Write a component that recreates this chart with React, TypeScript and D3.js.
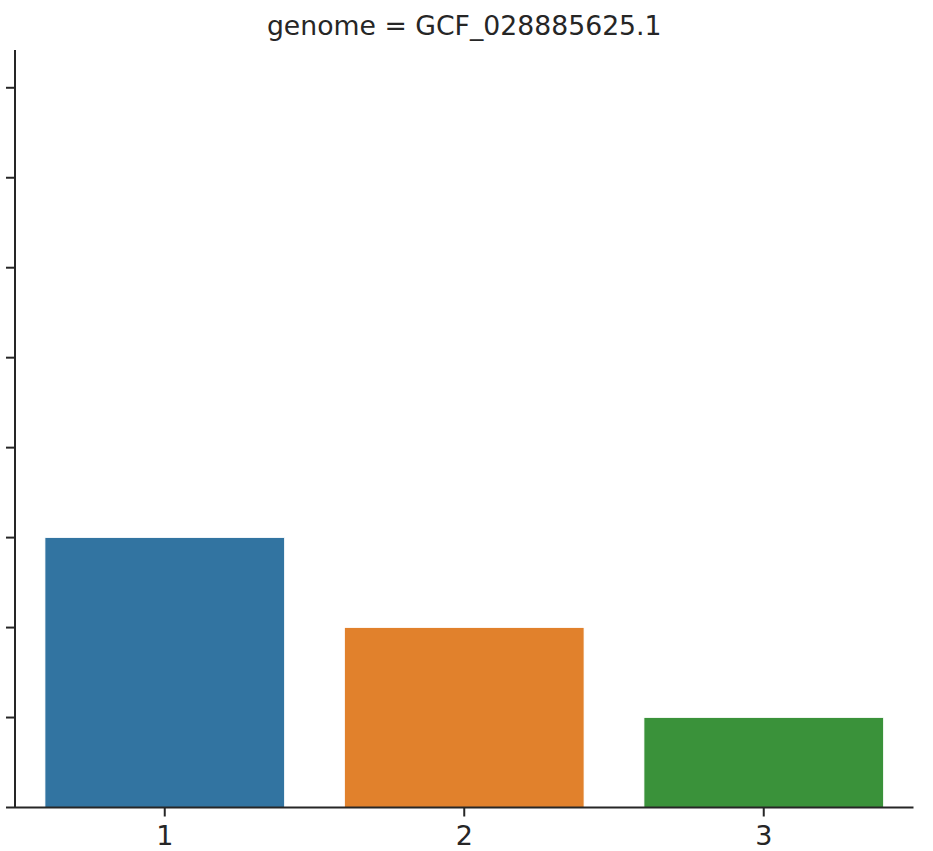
import React from "react";
import * as d3 from "d3";

const categories = ["1", "2", "3"];
const values = [3, 2, 1];
const colors = ["#3274a1", "#e1812c", "#3a923a"];
const yTicks = [0, 1, 2, 3, 4, 5, 6, 7, 8];
const title = "genome = GCF_028885625.1";

export default function App() {
  const W = 933, H = 851;
  const left = 15, right = 913.5, top = 50, bottom = 807.5;
  const x = d3.scaleBand<string>().domain(categories).range([left, right]).paddingInner(0.2).paddingOuter(0.1);
  const y = d3.scaleLinear().domain([0, 8.42]).range([bottom, top]);
  const ink = "#262626";
  const font = "DejaVu Sans, sans-serif";
  return (
    <svg width={W} height={H} style={{ position: "absolute", left: 0, top: 0 }}>
      <rect width={W} height={H} fill="#fff" />
      {categories.map((c, i) => (
        <rect key={c} x={x(c)!} y={y(values[i])} width={x.bandwidth()} height={y(0) - y(values[i])}
          fill={colors[i]} stroke="#fff" strokeWidth={0.8} />
      ))}
      <line x1={left} x2={left} y1={top} y2={bottom} stroke={ink} strokeWidth={2} />
      <line x1={left} x2={right} y1={bottom} y2={bottom} stroke={ink} strokeWidth={2} />
      {yTicks.map(t => (
        <line key={t} x1={left - 9} x2={left} y1={y(t)} y2={y(t)} stroke={ink} strokeWidth={2} />
      ))}
      {categories.map(c => {
        const cx = x(c)! + x.bandwidth() / 2;
        return (
          <g key={c}>
            <line x1={cx} x2={cx} y1={bottom} y2={bottom + 9} stroke={ink} strokeWidth={2} />
            <text x={cx} y={845} textAnchor="middle" fontFamily={font} fontSize={27} fill={ink}>{c}</text>
          </g>
        );
      })}
      <text x={(left + right) / 2} y={35} textAnchor="middle" fontFamily={font} fontSize={26.7} fill={ink}>{title}</text>
    </svg>
  );
}
